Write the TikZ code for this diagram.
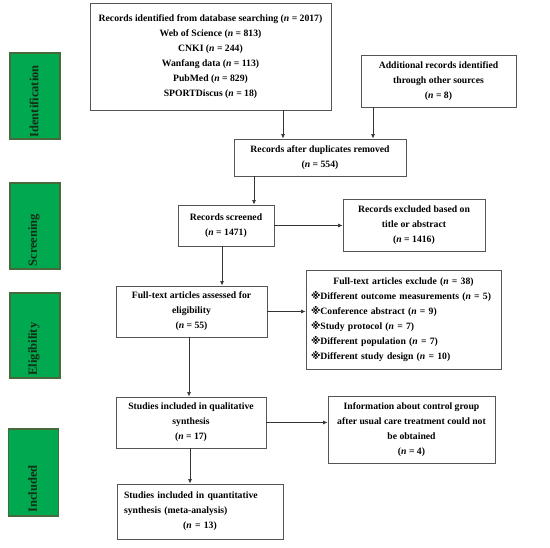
\documentclass[tikz,border=0pt]{standalone}
\usepackage{fontspec}
\setmainfont{Liberation Serif}
\newfontfamily\markfont{DejaVu Sans}
\usetikzlibrary{arrows.meta,positioning,calc}
\definecolor{boxline}{RGB}{85,85,85}
\definecolor{barfill}{RGB}{0,168,80}
\definecolor{barline}{RGB}{72,105,58}
\definecolor{bartext}{RGB}{20,45,22}
\newcommand{\nn}{\textit{n}}
\newcommand{\xm}{{\markfont\bfseries ※}}

\begin{document}
\begin{tikzpicture}[x=1pt,y=-1pt,
    every node/.append style={font=\fontsize{9.7}{15}\selectfont\bfseries},
    flowbox/.style={draw=boxline, line width=0.8pt, inner sep=0pt, align=center},
    stagebar/.style={draw=barline, fill=barfill, line width=1.2pt, minimum width=50pt, inner sep=0pt},
    stagetext/.style={rotate=90, anchor=west, text=bartext, inner sep=0pt, font=\fontsize{12.5}{14}\selectfont\bfseries},
    arr/.style={-{Latex[length=4.5pt,width=3.8pt]}, draw=black!80, line width=0.6pt}]
    \useasboundingbox (0,0) rectangle (550,548);
    % stage bars on the left
    \node[stagebar, minimum height=86pt] (barId) at (35,96) {};
    \node[stagebar, minimum height=86pt] (barSc) at (35,226) {};
    \node[stagebar, minimum height=85pt] (barEl) at (35,335.5) {};
    \node[stagebar, minimum height=87pt] (barIn) at (33.5,472.5) {};
    \node[stagetext] (txtId) at ($(barId.south)+(-1,-2)$) {Identification};
    \node[stagetext] (txtSc) at ($(barSc.south)+(-1,-3)$) {Screening};
    \node[stagetext] (txtEl) at ($(barEl.south)+(-1,-3)$) {Eligibility};
    \node[stagetext] (txtIn) at ($(barIn.south)+(-1,-4)$) {Included};
    % flow boxes
    \node[flowbox, minimum width=241pt, minimum height=107pt] (search) at (210.5,56.5)
      {Records identified from database searching (\nn{} = 2017)\\ Web of Science (\nn{} = 813)\\ CNKI (\nn{} = 244)\\
       Wanfang data (\nn{} = 113)\\ PubMed (\nn{} = 829)\\ SPORTDiscus (\nn{} = 18)};
    \node[flowbox, minimum width=155pt, minimum height=52pt] (other) at (438.5,81)
      {Additional records identified\\ through other sources\\ (\nn{} = 8)};
    \node[flowbox, minimum width=172pt, minimum height=37pt] (dup) at (320,157.5)
      {Records after duplicates removed\\ (\nn{} = 554)};
    \node[flowbox, minimum width=96pt, minimum height=41pt] (screen) at (226,225.5)
      {Records screened\\ (\nn{} = 1471)};
    \node[flowbox, minimum width=142pt, minimum height=52pt] (exscreen) at (414,225)
      {Records excluded based on\\ title or abstract\\ (\nn{} = 1416)};
    \node[flowbox, minimum width=151pt, minimum height=51pt] (full) at (191.5,311.5)
      {Full-text articles assessed for\\ eligibility\\ (\nn{} = 55)};
    \node[flowbox, align=left, text width=185pt, inner xsep=5pt, minimum width=195pt, minimum height=99pt] (exfull) at (403.5,319.5)
      {\makebox[\linewidth]{Full-text articles exclude (\nn{} = 38)}\\
       \xm Different outcome measurements (\nn{} = 5)\\
       \xm Conference abstract (\nn{} = 9)\\
       \xm Study protocol (\nn{} = 7)\\
       \xm Different population (\nn{} = 7)\\
       \xm Different study design (\nn{} = 10)};
    \node[flowbox, minimum width=150pt, minimum height=51pt] (qual) at (191,422.5)
      {Studies included in qualitative\\ synthesis\\ (\nn{} = 17)};
    \node[flowbox, minimum width=167pt, minimum height=67pt] (exqual) at (411.5,429.5)
      {Information about control group\\ after usual care treatment could not\\ be obtained\\ (\nn{} = 4)};
    \node[flowbox, align=left, text width=152pt, inner xsep=7pt, minimum width=166pt, minimum height=55pt] (quant) at (200,511.5)
      {\makebox[\linewidth][s]{Studies included in quantitative}\\ synthesis (meta-analysis)\\ \makebox[\linewidth]{(\nn{} = 13)}};
    % connector columns
    \coordinate (colA) at (283,0);
    \coordinate (colB) at (373,0);
    \coordinate (colC) at (254,0);
    \coordinate (colD) at (222,0);
    \coordinate (colE) at (189,0);
    \coordinate (colF) at (190,0);
    \draw[arr] (search.south -| colA) -- (dup.north -| colA);
    \draw[arr] (other.south -| colB) -- (dup.north -| colB);
    \draw[arr] (dup.south -| colC) -- (screen.north -| colC);
    \draw[arr] (screen.east) -- (screen.east -| exscreen.west);
    \draw[arr] (screen.south -| colD) -- (full.north -| colD);
    \draw[arr] (full.east) -- (full.east -| exfull.west);
    \draw[arr] (full.south -| colE) -- (qual.north -| colE);
    \draw[arr] (qual.east) -- (qual.east -| exqual.west);
    \draw[arr] (qual.south -| colF) -- (quant.north -| colF);
  \end{tikzpicture}
\end{document}
